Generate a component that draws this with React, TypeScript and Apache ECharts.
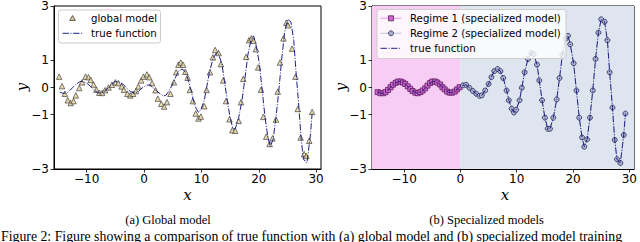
import React, { useEffect, useRef } from 'react';
import * as echarts from 'echarts';

// ---- data ----
const globalX = [
  -14.8, -14.3, -13.8, -13.3, -12.8, -12.3, -11.9, -11.3, -10.8, -10.2, -9.7, -9.3, -8.8, -8.3, -7.8,
  -7.3, -6.8, -6.2, -5.6, -5.0, -4.5, -3.9, -3.5, -2.9, -2.4, -1.9, -1.4, -1.0, -0.5, -0.1,
  0.5, 0.9, 1.4, 2.0, 2.4, 3.0, 3.5, 4.0, 4.6, 5.2, 5.6, 6.0, 6.4, 6.8, 7.2, 7.6, 8.0, 8.5, 9.0, 9.5,
  9.9, 10.5, 10.9, 11.5, 12.0, 12.4, 13.0, 13.4, 13.8, 14.3, 14.9, 15.4, 15.9, 16.5, 16.9, 17.3, 17.8,
  18.3, 18.7, 19.1, 19.5, 19.9, 20.4, 20.8, 21.3, 21.9, 22.4, 23.0, 23.3, 23.7, 24.3, 24.8, 25.1, 25.8,
  26.4, 26.8, 27.3, 27.9, 28.3, 28.8, 29.3,
];
const globalY = [
  0.4, 0.05, -0.23, -0.47, -0.57, -0.5, -0.29, -0.02, 0.19, 0.4, 0.38, 0.28, 0.11, -0.08, -0.19,
  -0.2, -0.1, 0.0, 0.1, 0.19, 0.16, 0.04, -0.08, -0.23, -0.29, -0.23, -0.13, 0.04, 0.26, 0.4,
  0.48, 0.38, 0.16, -0.1, -0.41, -0.6, -0.7, -0.54, -0.23, 0.19, 0.56, 0.84, 0.92, 0.84, 0.58, 0.36, -0.09, -0.5, -0.96, -1.14,
  -1.07, -0.69, -0.09, 0.56, 1.11, 1.38, 1.27, 0.86, 0.26, -0.5, -1.17, -1.57, -1.59, -1.23, -0.54, 0.32, 1.13,
  1.74, 1.81, 1.72, 1.41, 0.74, -0.08, -1.08, -1.81, -2.08, -1.87, -1.18, -0.15, 0.92, 1.81, 2.38, 2.29, 1.43,
  0.4, -0.79, -1.84, -2.45, -2.52, -1.96, -0.9,
];

const regime1X = [
  -14.7, -14.2, -13.7, -13.3, -12.85, -12.4, -12.0, -11.5, -11.1, -10.6, -10.2, -9.8, -9.35, -8.9, -8.5,
  -8.0, -7.6, -7.1, -6.7, -6.25, -5.85, -5.4, -5.0, -4.5, -4.1, -3.6, -3.2, -2.8, -2.35, -1.9, -1.5, -1.0,
  -0.6, -0.15,
];
const regime1Y = [
  -0.17, -0.21, -0.21, -0.17, -0.09, 0.01, 0.1, 0.17, 0.22, 0.22, 0.18, 0.13, 0.04, -0.05, -0.13,
  -0.19, -0.21, -0.17, -0.11, -0.03, 0.07, 0.16, 0.22, 0.22, 0.18, 0.11, 0.01, -0.07, -0.15, -0.19, -0.19, -0.15,
  -0.07, 0.01,
];

const regime2X = [
  0.44, 1.0, 1.6, 2.2, 2.8, 3.4, 3.8, 4.4, 5.0, 5.5, 6.0, 6.6, 7.1, 7.6, 8.2, 8.6, 9.1, 9.5, 9.9, 10.5,
  10.9, 11.4, 12.0, 12.6, 13.0, 13.6, 14.0, 14.5, 15.0, 15.5, 15.9, 16.5, 17.1, 17.6, 18.1, 18.7, 19.1,
  19.5, 20.1, 20.6, 21.1, 21.6, 22.0, 22.5, 23.0, 23.5, 24.0, 24.5, 25.0, 25.6, 26.1, 26.5, 27.0, 27.4,
  27.8, 28.4, 29.0, 29.3,
];
const regime2Y = [
  0.08, 0.1, -0.01, -0.13, -0.23, -0.31, -0.29, -0.11, 0.13, 0.38, 0.6, 0.68, 0.6, 0.35, -0.11, -0.47, -0.78, -0.92, -0.82, -0.47,
  -0.01, 0.56, 1.05, 1.27, 1.23, 0.84, 0.26, -0.47, -1.11, -1.52, -1.52, -1.11, -0.44, 0.35, 1.2, 1.8, 1.9,
  1.59, 0.89, -0.11, -1.11, -1.84, -2.18, -1.91, -1.11, -0.11, 1.05, 2.02, 2.51, 2.42, 1.74, 0.56, -0.74, -1.93,
  -2.64, -2.78, -1.75, -0.96,
];

const trueX = [
  -14.7, -14.2, -13.7, -13.3, -12.85, -12.4, -12.0, -11.5, -11.1, -10.6, -10.2, -9.8, -9.35, -8.9, -8.5,
  -8.0, -7.6, -7.1, -6.7, -6.25, -5.85, -5.4, -5.0, -4.5, -4.1, -3.6, -3.2, -2.8, -2.35, -1.9, -1.5, -1.0,
  -0.6, -0.15,
  0.44, 1.0, 1.6, 2.2, 2.8, 3.4, 3.8, 4.4, 5.0, 5.5, 6.0, 6.6, 7.1, 7.6, 8.2, 8.6, 9.1, 9.5, 9.9, 10.5,
  10.9, 11.4, 12.0, 12.6, 13.0, 13.6, 14.0, 14.5, 15.0, 15.5, 15.9, 16.5, 17.1, 17.6, 18.1, 18.7, 19.1,
  19.5, 20.1, 20.6, 21.1, 21.6, 22.0, 22.5, 23.0, 23.5, 24.0, 24.5, 25.0, 25.6, 26.1, 26.5, 27.0, 27.4,
  27.8, 28.4, 29.0, 29.3,
];
const trueY = [
  -0.17, -0.21, -0.21, -0.17, -0.09, 0.01, 0.1, 0.17, 0.22, 0.22, 0.18, 0.13, 0.04, -0.05, -0.13,
  -0.19, -0.21, -0.17, -0.11, -0.03, 0.07, 0.16, 0.22, 0.22, 0.18, 0.11, 0.01, -0.07, -0.15, -0.19, -0.19, -0.15,
  -0.07, 0.01,
  0.08, 0.1, -0.01, -0.13, -0.23, -0.31, -0.29, -0.11, 0.13, 0.38, 0.6, 0.68, 0.6, 0.35, -0.11, -0.47, -0.78, -0.92, -0.82, -0.47,
  -0.01, 0.56, 1.05, 1.27, 1.23, 0.84, 0.26, -0.47, -1.11, -1.52, -1.52, -1.11, -0.44, 0.35, 1.2, 1.8, 1.9,
  1.59, 0.89, -0.11, -1.11, -1.84, -2.18, -1.91, -1.11, -0.11, 1.05, 2.02, 2.51, 2.42, 1.74, 0.56, -0.74, -1.93,
  -2.64, -2.78, -1.75, -0.96,
];

const xTicks = [-10, 0, 10, 20, 30];
const yTicks = [-3, -1, 0, 1, 3];
const xRange = [-15.7, 30.85];
const yRange = [-3, 3];
const regimeSplit = 0;

const legendLeft = ['global model', 'true function'];
const legendRight = ['Regime 1 (specialized model)', 'Regime 2 (specialized model)', 'true function'];
const captions = ['(a) Global model', '(b) Specialized models'];
const figureCaption =
  'Figure 2: Figure showing a comparison of true function with (a) global model and (b) specialized model training';

const pairs = (xs: number[], ys: number[]) => xs.map((x, i) => [x, ys[i]]);

const TRUE_COLOR = '#1f1f86';
const DASHDOT = [6.4, 1.6, 1, 1.6];
const TRI_FILL = '#e2cf98';
const TRI_EDGE = '#333333';
const SQ_FILL = '#d066d0';
const SQ_EDGE = '#5a1d5a';
const SQ_LINE = '#f0a4ee';
const CI_FILL = '#aab2cc';
const CI_EDGE = '#2a2a5c';
const CI_LINE = '#c6d0e2';
const PINK_BG = '#f7cdf5';
const BLUE_BG = '#dfe5ef';

const fmt = (v: number) => String(v).replace('-', '\u2212');

function makeXAxis(gridIndex: number) {
  return {
    type: 'value',
    gridIndex,
    min: xRange[0],
    max: xRange[1],
    splitLine: { show: false },
    axisLine: { show: true, onZero: false, lineStyle: { color: '#000', width: 1 } },
    axisTick: { show: true, length: 3.5, lineStyle: { color: '#000', width: 0.8 }, customValues: xTicks },
    axisLabel: {
      customValues: xTicks,
      formatter: fmt,
      fontFamily: 'DejaVu Sans',
      fontSize: 12,
      color: '#000',
      margin: 4,
    },
  };
}
function makeYAxis(gridIndex: number) {
  return {
    type: 'value',
    gridIndex,
    min: yRange[0],
    max: yRange[1],
    splitLine: { show: false },
    axisLine: { show: true, onZero: false, lineStyle: { color: '#000', width: 1 } },
    axisTick: { show: true, length: 3.5, lineStyle: { color: '#000', width: 0.8 }, customValues: yTicks },
    axisLabel: {
      customValues: yTicks,
      formatter: fmt,
      fontFamily: 'DejaVu Sans',
      fontSize: 12,
      color: '#000',
      margin: 5,
    },
  };
}

const legendText = (x: number, y: number, t: string) => ({
  type: 'text',
  x,
  y,
  style: { text: t, fontFamily: 'DejaVu Sans', fontSize: 10.2, fill: '#000', verticalAlign: 'middle', align: 'left' },
  z: 101,
});

export default function App() {
  const ref = useRef<HTMLDivElement>(null);
  useEffect(() => {
    document.body.style.margin = '0';
    const chart = echarts.init(ref.current!, null, { renderer: 'svg' });
    const L = { ix: 62.5, mx: 72.5, ex: 82.5, tx: 91 };
    const R = { ix: 380.5, mx: 391, ex: 401.5, tx: 410 };
    const option = {
      animation: false,
      backgroundColor: '#fff',
      grid: [
        { left: 54, top: 5, width: 267, height: 164, show: true, borderColor: '#000', borderWidth: 1, backgroundColor: 'transparent' },
        { left: 372, top: 5, width: 266, height: 164, show: true, borderColor: '#000', borderWidth: 1, backgroundColor: 'transparent' },
      ],
      xAxis: [makeXAxis(0), makeXAxis(1)],
      yAxis: [makeYAxis(0), makeYAxis(1)],
      series: [
        {
          name: 'background',
          type: 'line',
          xAxisIndex: 1,
          yAxisIndex: 1,
          data: [[xRange[0], 0], [xRange[1], 0]],
          symbol: 'none',
          lineStyle: { opacity: 0 },
          silent: true,
          z: 0,
          markArea: {
            silent: true,
            itemStyle: { opacity: 1 },
            data: [
              [{ xAxis: xRange[0], itemStyle: { color: PINK_BG } }, { xAxis: regimeSplit }],
              [{ xAxis: regimeSplit, itemStyle: { color: BLUE_BG } }, { xAxis: xRange[1] }],
            ],
          },
        },
        {
          name: legendLeft[0],
          type: 'scatter',
          xAxisIndex: 0,
          yAxisIndex: 0,
          data: pairs(globalX, globalY),
          symbol: 'triangle',
          symbolSize: 5.5,
          itemStyle: { color: TRI_FILL, borderColor: TRI_EDGE, borderWidth: 0.8 },
          z: 2,
        },
        {
          name: 'true function (a)',
          type: 'line',
          xAxisIndex: 0,
          yAxisIndex: 0,
          data: pairs(trueX, trueY),
          symbol: 'none',
          lineStyle: { color: TRUE_COLOR, width: 1, type: DASHDOT },
          z: 3,
        },
        {
          name: legendRight[0],
          type: 'line',
          xAxisIndex: 1,
          yAxisIndex: 1,
          data: pairs(regime1X, regime1Y),
          symbol: 'rect',
          symbolSize: 5,
          showAllSymbol: true,
          lineStyle: { color: SQ_LINE, width: 1.2 },
          itemStyle: { color: SQ_FILL, borderColor: SQ_EDGE, borderWidth: 0.8 },
          z: 2,
        },
        {
          name: legendRight[1],
          type: 'line',
          xAxisIndex: 1,
          yAxisIndex: 1,
          data: pairs(regime2X, regime2Y),
          symbol: 'circle',
          symbolSize: 5,
          showAllSymbol: true,
          lineStyle: { color: CI_LINE, width: 1.2 },
          itemStyle: { color: CI_FILL, borderColor: CI_EDGE, borderWidth: 0.8 },
          z: 2,
        },
        {
          name: 'true function (b)',
          type: 'line',
          xAxisIndex: 1,
          yAxisIndex: 1,
          data: pairs(trueX, trueY),
          symbol: 'none',
          lineStyle: { color: TRUE_COLOR, width: 1, type: DASHDOT },
          z: 3,
        },
      ],
      graphic: [
        // left legend
        { type: 'rect', shape: { x: 58.5, y: 10, width: 102, height: 33, r: 2.5 }, style: { fill: 'rgba(255,255,255,0.8)', stroke: '#cccccc', lineWidth: 1 }, z: 100 },
        { type: 'polygon', shape: { points: [[L.mx, 15.6], [L.mx + 2.8, 20.4], [L.mx - 2.8, 20.4]] }, style: { fill: TRI_FILL, stroke: TRI_EDGE, lineWidth: 0.8 }, z: 101 },
        legendText(L.tx, 18.3, legendLeft[0]),
        { type: 'line', shape: { x1: L.ix, y1: 33.3, x2: L.ex, y2: 33.3 }, style: { stroke: TRUE_COLOR, lineWidth: 1, lineDash: DASHDOT }, z: 101 },
        legendText(L.tx, 33.3, legendLeft[1]),
        // right legend
        { type: 'rect', shape: { x: 377, y: 9.5, width: 189, height: 49, r: 2.5 }, style: { fill: 'rgba(255,255,255,0.8)', stroke: '#cccccc', lineWidth: 1 }, z: 100 },
        { type: 'line', shape: { x1: R.ix, y1: 18.3, x2: R.ex, y2: 18.3 }, style: { stroke: SQ_LINE, lineWidth: 1.2 }, z: 101 },
        { type: 'rect', shape: { x: R.mx - 2.5, y: 15.8, width: 5, height: 5 }, style: { fill: SQ_FILL, stroke: SQ_EDGE, lineWidth: 0.8 }, z: 102 },
        legendText(R.tx, 18.3, legendRight[0]),
        { type: 'line', shape: { x1: R.ix, y1: 33.3, x2: R.ex, y2: 33.3 }, style: { stroke: CI_LINE, lineWidth: 1.2 }, z: 101 },
        { type: 'circle', shape: { cx: R.mx, cy: 33.3, r: 2.5 }, style: { fill: CI_FILL, stroke: CI_EDGE, lineWidth: 0.8 }, z: 102 },
        legendText(R.tx, 33.3, legendRight[1]),
        { type: 'line', shape: { x1: R.ix, y1: 48.3, x2: R.ex, y2: 48.3 }, style: { stroke: TRUE_COLOR, lineWidth: 1, lineDash: DASHDOT }, z: 101 },
        legendText(R.tx, 48.3, legendRight[2]),
        // axis titles
        { type: 'text', x: 187.5, y: 195, style: { text: 'x', fontFamily: 'DejaVu Serif', fontStyle: 'italic', fontSize: 15, fill: '#000', align: 'center', verticalAlign: 'middle' } },
        { type: 'text', x: 505, y: 195, style: { text: 'x', fontFamily: 'DejaVu Serif', fontStyle: 'italic', fontSize: 15, fill: '#000', align: 'center', verticalAlign: 'middle' } },
        { type: 'text', x: 21.5, y: 87, rotation: Math.PI / 2, style: { text: 'y', fontFamily: 'DejaVu Serif', fontStyle: 'italic', fontSize: 15, fill: '#000', align: 'center', verticalAlign: 'middle' } },
        { type: 'text', x: 341, y: 87, rotation: Math.PI / 2, style: { text: 'y', fontFamily: 'DejaVu Serif', fontStyle: 'italic', fontSize: 15, fill: '#000', align: 'center', verticalAlign: 'middle' } },
        // captions
        { type: 'text', x: 168, y: 219.5, style: { text: captions[0], fontFamily: 'Liberation Serif', fontSize: 12.5, fill: '#000', align: 'center', verticalAlign: 'middle' } },
        { type: 'text', x: 486.5, y: 219.5, style: { text: captions[1], fontFamily: 'Liberation Serif', fontSize: 12.5, fill: '#000', align: 'center', verticalAlign: 'middle' } },
        { type: 'text', x: 1, y: 229, style: { text: figureCaption, fontFamily: 'Liberation Serif', fontSize: 13.8, fill: '#000', align: 'left', verticalAlign: 'top' } },
      ],
    };
    chart.setOption(option as any);
    return () => chart.dispose();
  }, []);
  return <div ref={ref} style={{ width: 640, height: 242, overflow: 'hidden' }} />;
}
